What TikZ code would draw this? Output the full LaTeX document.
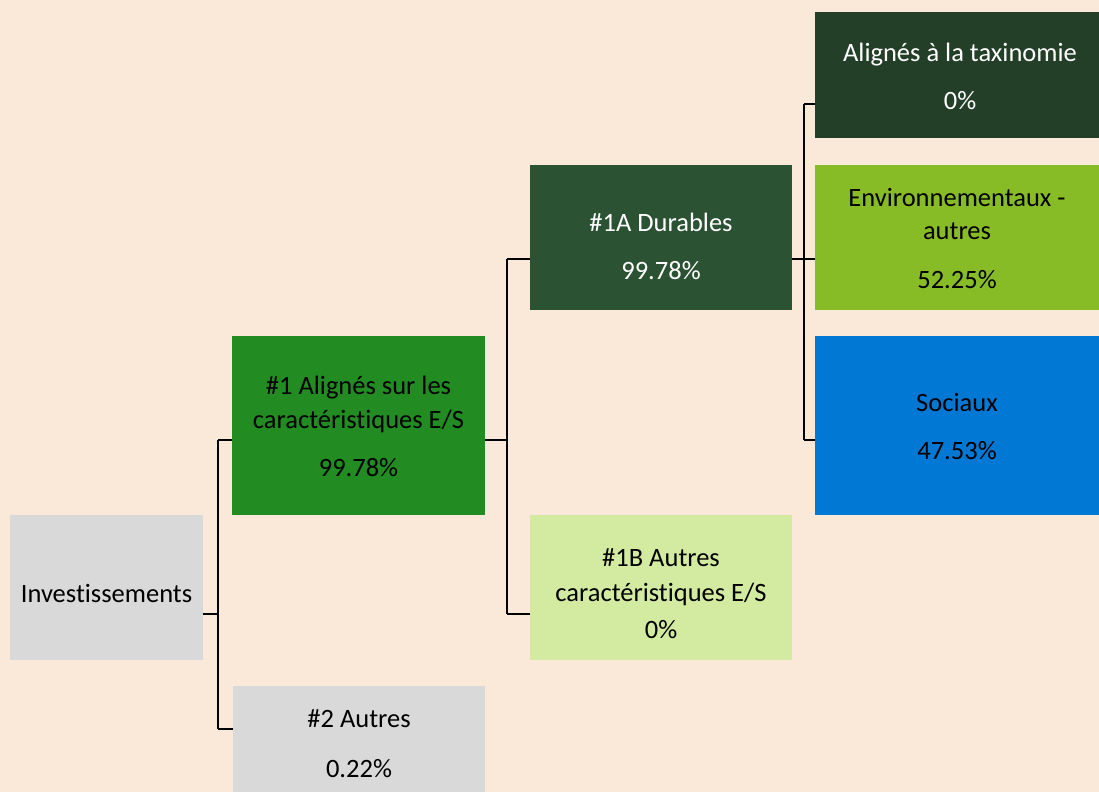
\documentclass[tikz,border=0pt]{standalone}
\usepackage{fontspec}
\setmainfont[Ligatures={NoCommon}]{Carlito}
\definecolor{bg}{HTML}{FAE8D8}
\definecolor{greyb}{HTML}{D9D9D9}
\definecolor{fgreen}{HTML}{228B22}
\definecolor{dgreen}{HTML}{2C5234}
\definecolor{ddgreen}{HTML}{233F28}
\definecolor{lgreen}{HTML}{88BC27}
\definecolor{pgreen}{HTML}{D3EBA0}
\definecolor{sblue}{HTML}{0078D4}
\begin{document}
\begin{tikzpicture}[x=1pt,y=-1pt,
  box/.style={rectangle, draw=none, inner sep=0pt, outer sep=0pt, anchor=north west},
  txt/.style={anchor=base, inner sep=0pt, font=\fontsize{26.5}{33}\selectfont},
  wtxt/.style={txt, text=white},
  conn/.style={draw=black, line width=2.3pt}]
\fill[bg] (0,0) rectangle (1099,792);
\useasboundingbox (0,0) rectangle (1099,792);
% boxes
\node[box, fill=greyb, minimum width=193pt, minimum height=145pt] (inv) at (10,515) {};
\node[box, fill=fgreen, minimum width=253pt, minimum height=179pt] (n1) at (232,336) {};
\node[box, fill=greyb, minimum width=252pt, minimum height=106pt] (n2) at (233,686) {};
\node[box, fill=dgreen, minimum width=262pt, minimum height=145pt] (n1a) at (530,165) {};
\node[box, fill=pgreen, minimum width=262pt, minimum height=145pt] (n1b) at (530,515) {};
\node[box, fill=ddgreen, minimum width=284pt, minimum height=126pt] (tax) at (815,12) {};
\node[box, fill=lgreen, minimum width=284pt, minimum height=145pt] (env) at (815,165) {};
\node[box, fill=sblue, minimum width=284pt, minimum height=179pt] (soc) at (815,336) {};
% texts
\node[txt] (tinv) at (106.5,602) {Investissements};
\node[txt] (t1a) at (358.5,394) {\#1 Alignés sur les};
\node[txt] (t1b) at (358.5,428) {caractéristiques E/S};
\node[txt] (t1c) at (358.5,476) {99.78\%};
\node[txt] (t2a) at (359,727) {\#2 Autres};
\node[txt] (t2b) at (359,777) {0.22\%};
\node[wtxt] (t1Aa) at (661,231) {\#1A Durables};
\node[wtxt] (t1Ab) at (661,279) {99.78\%};
\node[txt] (t1Ba) at (661,566) {\#1B Autres};
\node[txt] (t1Bb) at (661,601) {caractéristiques E/S};
\node[txt] (t1Bc) at (661,638) {0\%};
\node[wtxt] (ttaxa) at (960,61) {Alignés à la taxinomie};
\node[wtxt] (ttaxb) at (960,109) {0\%};
\node[txt] (tenva) at (957,206) {Environnementaux -};
\node[txt] (tenvb) at (957,239) {autres};
\node[txt] (tenvc) at (957,288) {52.25\%};
\node[txt] (tsoca) at (957,411) {Sociaux};
\node[txt] (tsocb) at (957,459) {47.53\%};
% bus coordinates
\coordinate (b1) at (218,614);
\coordinate (b2) at (507,440);
\coordinate (b3) at (804,259);
\coordinate (y1) at (0,440);
\coordinate (y2) at (0,729);
\coordinate (y3) at (0,614);
\coordinate (y4) at (0,259);
\coordinate (y5) at (0,104);
% connectors
\draw[conn] (inv.east |- b1) -- (b1);
\draw[conn] (b1 |- y1) -- (b1 |- y2);
\draw[conn] (b1 |- y1) -- (n1.west |- y1);
\draw[conn] (b1 |- y2) -- (n2.west |- y2);
\draw[conn] (n1.east |- b2) -- (b2);
\draw[conn] (b2 |- y4) -- (b2 |- y3);
\draw[conn] (b2 |- y4) -- (n1a.west |- y4);
\draw[conn] (b2 |- y3) -- (n1b.west |- y3);
\draw[conn] (n1a.east |- b3) -- (b3);
\draw[conn] (b3 |- y5) -- (b3 |- y1);
\draw[conn] (b3 |- y5) -- (tax.west |- y5);
\draw[conn] (b3) -- (env.west |- b3);
\draw[conn] (b3 |- y1) -- (soc.west |- y1);
\end{tikzpicture}
\end{document}
